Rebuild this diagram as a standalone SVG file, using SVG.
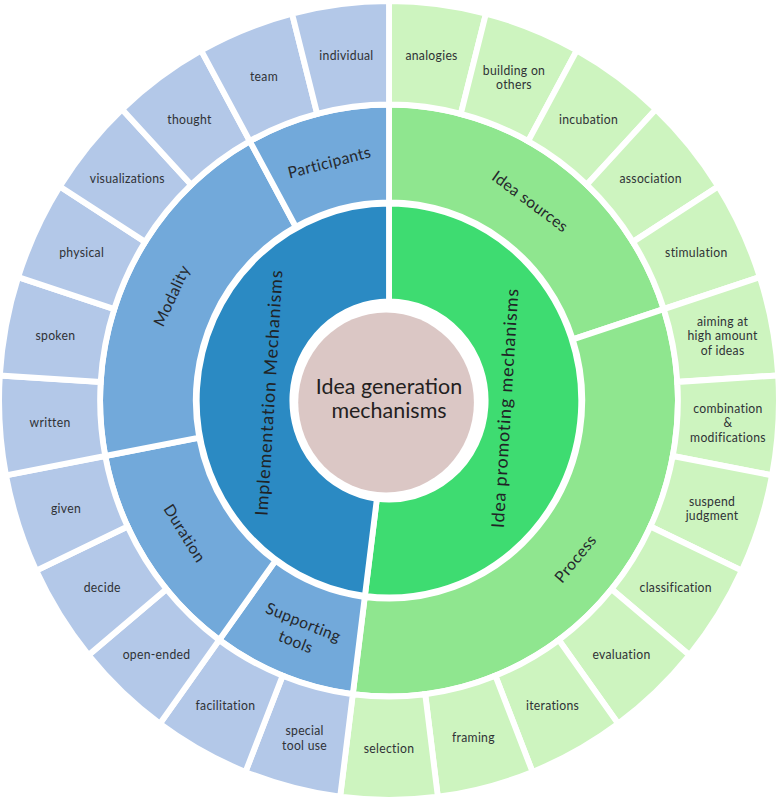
<svg xmlns="http://www.w3.org/2000/svg" width="781" height="806" viewBox="0 0 781 806">
<style>
.seg{stroke:#ffffff;stroke-width:6;stroke-linejoin:miter}
.b1{fill:#2b8ac3}.b2{fill:#72a9da}.b3{fill:#b3c8e8}
.g1{fill:#3edc71}.g2{fill:#8fe68f}.g3{fill:#cdf4bf}
.lf{font-family:Lato,"Noto Sans",sans-serif;font-size:12.5px;letter-spacing:0.3px;fill:#2f3236;text-anchor:middle;dominant-baseline:central}
.md{font-family:Lato,"Noto Sans",sans-serif;font-size:16px;letter-spacing:0.4px;fill:#25282c;text-anchor:middle;dominant-baseline:central}
.in{font-family:Lato,"Noto Sans",sans-serif;font-size:18px;letter-spacing:0.8px;fill:#202326;text-anchor:middle;dominant-baseline:central}
.ct{font-family:Lato,"Noto Sans",sans-serif;font-size:22px;fill:#241f1f;text-anchor:middle}
</style>
<rect width="781" height="806" fill="#ffffff"/>
<g transform="translate(389,400.5) scale(0.976,1)">
<g id="center">
<circle cx="-3" cy="2" r="90" fill="#dbc7c5"/>
<text class="ct"><tspan x="0" y="-6.5">Idea generation</tspan><tspan x="0" y="17.5">mechanisms</tspan></text>
</g>
<g id="idea-promoting-mechanisms">
<path class="seg g1" d="M 0,-197 A 197 197 0 1 1 -24.69,195.45 L -12.41,98.22 A 99 99 0 1 0 0,-99 Z"/>
<text class="in" transform="translate(118,7.5) rotate(-86.4)">Idea promoting mechanisms</text>
</g>
<g id="implementation-mechanisms">
<path class="seg b1" d="M -24.69,195.45 A 197 197 0 0 1 0,-197 L 0,-99 A 99 99 0 0 0 -12.41,98.22 Z"/>
<text class="in" transform="translate(-123.8,-7.8) rotate(-86.4)">Implementation Mechanisms</text>
</g>
<g id="idea-sources">
<path class="seg g2" d="M 0,-296 A 296 296 0 0 1 281.51,-91.47 L 188.31,-61.19 A 198 198 0 0 0 0,-198 Z"/>
<text class="md" transform="translate(145.2,-199.8) rotate(36)">Idea sources</text>
</g>
<g id="process">
<path class="seg g2" d="M 281.51,-91.47 A 296 296 0 0 1 -37.10,293.66 L -24.82,196.44 A 198 198 0 0 0 188.31,-61.19 Z"/>
<text class="md" transform="translate(190.3,157.4) rotate(-50.4)">Process</text>
</g>
<g id="supporting-tools">
<path class="seg b2" d="M -37.10,293.66 A 296 296 0 0 1 -173.99,239.47 L -116.38,160.19 A 198 198 0 0 0 -24.82,196.44 Z"/>
<text class="md" transform="translate(-90.9,229.7) rotate(21.6)"><tspan x="0" y="-10">Supporting</tspan><tspan x="0" y="11">tools</tspan></text>
</g>
<g id="duration">
<path class="seg b2" d="M -173.99,239.47 A 296 296 0 0 1 -290.76,55.46 L -194.49,37.10 A 198 198 0 0 0 -116.38,160.19 Z"/>
<text class="md" transform="translate(-208.6,132.3) rotate(57.6)">Duration</text>
</g>
<g id="modality">
<path class="seg b2" d="M -290.76,55.46 A 296 296 0 0 1 -142.60,-259.39 L -95.39,-173.51 A 198 198 0 0 0 -194.49,37.10 Z"/>
<text class="md" transform="translate(-223.5,-105.2) rotate(-64.8)">Modality</text>
</g>
<g id="participants">
<path class="seg b2" d="M -142.60,-259.39 A 296 296 0 0 1 0,-296 L 0,-198 A 198 198 0 0 0 -95.39,-173.51 Z"/>
<text class="md" transform="translate(-61.4,-239.2) rotate(-14.4)">Participants</text>
</g>
<g id="analogies"><path class="seg g3" d="M 0,-399.5 A 399.5 399.5 0 0 1 99.35,-386.95 L 73.61,-286.70 A 296 296 0 0 0 0,-296 Z"/><text class="lf" x="43.6" y="-345.3">analogies</text></g>
<g id="building-on-others"><path class="seg g3" d="M 99.35,-386.95 A 399.5 399.5 0 0 1 192.46,-350.09 L 142.60,-259.39 A 296 296 0 0 0 73.61,-286.70 Z"/><text class="lf"><tspan x="128.1" y="-330.8">building on</tspan><tspan x="128.1" y="-316.3">others</tspan></text></g>
<g id="incubation"><path class="seg g3" d="M 192.46,-350.09 A 399.5 399.5 0 0 1 273.48,-291.22 L 202.63,-215.78 A 296 296 0 0 0 142.60,-259.39 Z"/><text class="lf" x="204.5" y="-281.5">incubation</text></g>
<g id="association"><path class="seg g3" d="M 273.48,-291.22 A 399.5 399.5 0 0 1 337.31,-214.06 L 249.92,-158.61 A 296 296 0 0 0 202.63,-215.78 Z"/><text class="lf" x="268.1" y="-221.8">association</text></g>
<g id="stimulation"><path class="seg g3" d="M 337.31,-214.06 A 399.5 399.5 0 0 1 379.95,-123.45 L 281.51,-91.47 A 296 296 0 0 0 249.92,-158.61 Z"/><text class="lf" x="314.9" y="-148.2">stimulation</text></g>
<g id="aiming-at-high-amount-of-ideas"><path class="seg g3" d="M 379.95,-123.45 A 399.5 399.5 0 0 1 398.71,-25.08 L 295.42,-18.59 A 296 296 0 0 0 281.51,-91.47 Z"/><text class="lf"><tspan x="341.8" y="-79.7">aiming at</tspan><tspan x="341.8" y="-65.2">high amount</tspan><tspan x="341.8" y="-50.7">of ideas</tspan></text></g>
<g id="combination-modifications"><path class="seg g3" d="M 398.71,-25.08 A 399.5 399.5 0 0 1 392.42,74.86 L 290.76,55.46 A 296 296 0 0 0 295.42,-18.59 Z"/><text class="lf"><tspan x="347.3" y="7.4">combination</tspan><tspan x="347.3" y="21.9">&amp;</tspan><tspan x="347.3" y="36.4">modifications</tspan></text></g>
<g id="suspend-judgment"><path class="seg g3" d="M 392.42,74.86 A 399.5 399.5 0 0 1 361.48,170.10 L 267.83,126.03 A 296 296 0 0 0 290.76,55.46 Z"/><text class="lf"><tspan x="331.0" y="100.2">suspend</tspan><tspan x="331.0" y="114.7">judgment</tspan></text></g>
<g id="classification"><path class="seg g3" d="M 361.48,170.10 A 399.5 399.5 0 0 1 307.82,254.65 L 228.07,188.68 A 296 296 0 0 0 267.83,126.03 Z"/><text class="lf" x="293.8" y="186.5">classification</text></g>
<g id="evaluation"><path class="seg g3" d="M 307.82,254.65 A 399.5 399.5 0 0 1 234.82,323.20 L 173.99,239.47 A 296 296 0 0 0 228.07,188.68 Z"/><text class="lf" x="238.2" y="253.7">evaluation</text></g>
<g id="iterations"><path class="seg g3" d="M 234.82,323.20 A 399.5 399.5 0 0 1 147.06,371.45 L 108.96,275.22 A 296 296 0 0 0 173.99,239.47 Z"/><text class="lf" x="167.6" y="305.0">iterations</text></g>
<g id="framing"><path class="seg g3" d="M 147.06,371.45 A 399.5 399.5 0 0 1 50.07,396.35 L 37.10,293.66 A 296 296 0 0 0 108.96,275.22 Z"/><text class="lf" x="86.5" y="337.1">framing</text></g>
<g id="selection"><path class="seg g3" d="M 50.07,396.35 A 399.5 399.5 0 0 1 -50.07,396.35 L -37.10,293.66 A 296 296 0 0 0 37.10,293.66 Z"/><text class="lf" x="0" y="348">selection</text></g>
<g id="special-tool-use"><path class="seg b3" d="M -50.07,396.35 A 399.5 399.5 0 0 1 -147.06,371.45 L -108.96,275.22 A 296 296 0 0 0 -37.10,293.66 Z"/><text class="lf"><tspan x="-86.5" y="329.8">special</tspan><tspan x="-86.5" y="344.3">tool use</tspan></text></g>
<g id="facilitation"><path class="seg b3" d="M -147.06,371.45 A 399.5 399.5 0 0 1 -234.82,323.20 L -173.99,239.47 A 296 296 0 0 0 -108.96,275.22 Z"/><text class="lf" x="-167.6" y="305.0">facilitation</text></g>
<g id="open-ended"><path class="seg b3" d="M -234.82,323.20 A 399.5 399.5 0 0 1 -307.82,254.65 L -228.07,188.68 A 296 296 0 0 0 -173.99,239.47 Z"/><text class="lf" x="-238.2" y="253.7">open-ended</text></g>
<g id="decide"><path class="seg b3" d="M -307.82,254.65 A 399.5 399.5 0 0 1 -361.48,170.10 L -267.83,126.03 A 296 296 0 0 0 -228.07,188.68 Z"/><text class="lf" x="-293.8" y="186.5">decide</text></g>
<g id="given"><path class="seg b3" d="M -361.48,170.10 A 399.5 399.5 0 0 1 -392.42,74.86 L -290.76,55.46 A 296 296 0 0 0 -267.83,126.03 Z"/><text class="lf" x="-331.0" y="107.5">given</text></g>
<g id="written"><path class="seg b3" d="M -392.42,74.86 A 399.5 399.5 0 0 1 -398.71,-25.08 L -295.42,-18.59 A 296 296 0 0 0 -290.76,55.46 Z"/><text class="lf" x="-347.3" y="21.9">written</text></g>
<g id="spoken"><path class="seg b3" d="M -398.71,-25.08 A 399.5 399.5 0 0 1 -379.95,-123.45 L -281.51,-91.47 A 296 296 0 0 0 -295.42,-18.59 Z"/><text class="lf" x="-341.8" y="-65.2">spoken</text></g>
<g id="physical"><path class="seg b3" d="M -379.95,-123.45 A 399.5 399.5 0 0 1 -337.31,-214.06 L -249.92,-158.61 A 296 296 0 0 0 -281.51,-91.47 Z"/><text class="lf" x="-314.9" y="-148.2">physical</text></g>
<g id="visualizations"><path class="seg b3" d="M -337.31,-214.06 A 399.5 399.5 0 0 1 -273.48,-291.22 L -202.63,-215.78 A 296 296 0 0 0 -249.92,-158.61 Z"/><text class="lf" x="-268.1" y="-221.8">visualizations</text></g>
<g id="thought"><path class="seg b3" d="M -273.48,-291.22 A 399.5 399.5 0 0 1 -192.46,-350.09 L -142.60,-259.39 A 296 296 0 0 0 -202.63,-215.78 Z"/><text class="lf" x="-204.5" y="-281.5">thought</text></g>
<g id="team"><path class="seg b3" d="M -192.46,-350.09 A 399.5 399.5 0 0 1 -99.35,-386.95 L -73.61,-286.70 A 296 296 0 0 0 -142.60,-259.39 Z"/><text class="lf" x="-128.1" y="-323.6">team</text></g>
<g id="individual"><path class="seg b3" d="M -99.35,-386.95 A 399.5 399.5 0 0 1 0,-399.5 L 0,-296 A 296 296 0 0 0 -73.61,-286.70 Z"/><text class="lf" x="-43.6" y="-345.3">individual</text></g>
</g>
</svg>
